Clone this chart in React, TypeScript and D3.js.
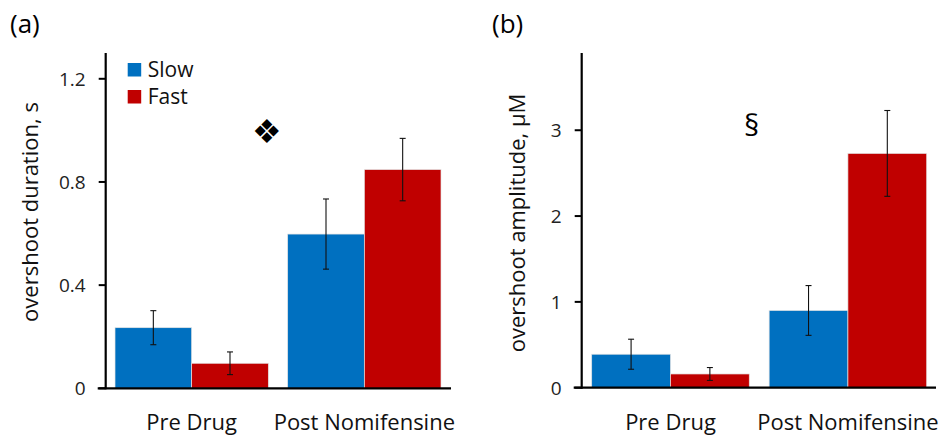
import React from "react";
import * as d3 from "d3";

// data
const categories = ["Pre Drug", "Post Nomifensine"];
const seriesNames = ["Slow", "Fast"];
const seriesColors = ["#0070C0", "#C00000"];

const durationSlow = [0.235, 0.598];
const durationSlowErr = [0.066, 0.136];
const durationFast = [0.097, 0.848];
const durationFastErr = [0.044, 0.121];
const durationTicks = [0, 0.4, 0.8, 1.2];

const amplitudeSlow = [0.39, 0.9];
const amplitudeSlowErr = [0.175, 0.29];
const amplitudeFast = [0.16, 2.73];
const amplitudeFastErr = [0.075, 0.5];
const amplitudeTicks = [0, 1, 2, 3];

const FONT = "'Open Sans', 'DejaVu Sans', sans-serif";

function Panel(props) {
  const {
    axisX, barLeft, barRight, axisRight, top, bottom, yMax,
    values, errors, ticks, tickFmt, yLabel, yLabelX, yLabelY,
    tag, tagX, marker, markerValue, markerFont, markerSize, markerDx, legend,
  } = props;

  const y = d3.scaleLinear().domain([0, yMax]).range([bottom, top]);
  const x0 = d3.scaleBand().domain(categories).range([barLeft, barRight]).paddingInner(0.112).paddingOuter(0);
  const x1 = d3.scaleBand().domain(seriesNames).range([0, x0.bandwidth()]);

  const markerX = x0(categories[0]) + x0.bandwidth() + markerDx;

  return (
    <g>
      <text x={tagX} y={33} fontSize={26} fontFamily={FONT} fill="#000">{tag}</text>

      {categories.map((c, ci) => (
        <g key={c} transform={`translate(${x0(c)},0)`}>
          {seriesNames.map((s, si) => {
            const v = values[si][ci];
            const e = errors[si][ci];
            const bx = x1(s);
            const cx = bx + x1.bandwidth() / 2;
            return (
              <g key={s}>
                <rect x={bx} y={y(v)} width={x1.bandwidth()} height={y(0) - y(v)}
                  fill={seriesColors[si]} stroke="#e4e4e4" strokeWidth={0.7} />
                <line x1={cx} x2={cx} y1={y(v + e)} y2={y(v - e)} stroke="#111" strokeWidth={1.1} />
                <line x1={cx - 3} x2={cx + 3} y1={y(v + e)} y2={y(v + e)} stroke="#111" strokeWidth={1.1} />
                <line x1={cx - 3} x2={cx + 3} y1={y(v - e)} y2={y(v - e)} stroke="#111" strokeWidth={1.1} />
              </g>
            );
          })}
          <text x={x0.bandwidth() / 2} y={430} textAnchor="middle" fontSize={22} fontFamily={FONT} fill="#111">{c}</text>
        </g>
      ))}

      {/* axes */}
      <line x1={axisX} x2={axisX} y1={top} y2={bottom + 1} stroke="#000" strokeWidth={2.2} />
      <line x1={axisX - 8} x2={axisRight} y1={bottom} y2={bottom} stroke="#000" strokeWidth={2.2} />
      {ticks.map((t) => (
        <g key={t}>
          <line x1={axisX - 7} x2={axisX} y1={y(t)} y2={y(t)} stroke="#000" strokeWidth={2} />
          <text x={axisX - 20} y={y(t)} dy="0.36em" textAnchor="end" fontSize={19} fontFamily={FONT} fill="#222">{tickFmt(t)}</text>
        </g>
      ))}

      <text transform={`translate(${yLabelX},${yLabelY}) rotate(-90)`} textAnchor="middle" dy="0.35em"
        fontSize={22} fontFamily={FONT} fill="#111">{yLabel}</text>

      <text x={markerX} y={y(markerValue)} dy="0.35em" textAnchor="middle" fontSize={markerSize} fontFamily={markerFont} fill="#000">{marker}</text>

      {legend && seriesNames.map((s, i) => (
        <g key={s} transform={`translate(${axisX + 22},${63 + i * 27})`}>
          <rect x={0} y={0} width={13.5} height={13.5} fill={seriesColors[i]} />
          <text x={20} y={13.8} fontSize={21} fontFamily={FONT} fill="#111">{s}</text>
        </g>
      ))}
    </g>
  );
}

export default function App() {
  return (
    <svg width={952} height={439} style={{ position: "absolute", left: 0, top: 0, background: "#fff" }}>
      <Panel
        axisX={105.7} barLeft={115} barRight={441} axisRight={451} top={53} bottom={388.3} yMax={1.3}
        values={[durationSlow, durationFast]} errors={[durationSlowErr, durationFastErr]}
        ticks={durationTicks} tickFmt={(t) => (t === 0 ? "0" : d3.format(".1f")(t))}
        yLabel="overshoot duration, s" yLabelX={30} yLabelY={212}
        tag="(a)" tagX={10} marker="❖" markerValue={0.995} markerFont="'DejaVu Sans', sans-serif" markerSize={33} markerDx={-1.5}
        legend={true}
      />
      <Panel
        axisX={581.7} barLeft={591.7} barRight={926.7} axisRight={936} top={53} bottom={387.7} yMax={3.9}
        values={[amplitudeSlow, amplitudeFast]} errors={[amplitudeSlowErr, amplitudeFastErr]}
        ticks={amplitudeTicks} tickFmt={(t) => String(t)}
        yLabel="overshoot amplitude, μM" yLabelX={517} yLabelY={223}
        tag="(b)" tagX={492} marker="§" markerValue={3.05} markerFont={FONT} markerSize={30} markerDx={2.5}
        legend={false}
      />
    </svg>
  );
}
